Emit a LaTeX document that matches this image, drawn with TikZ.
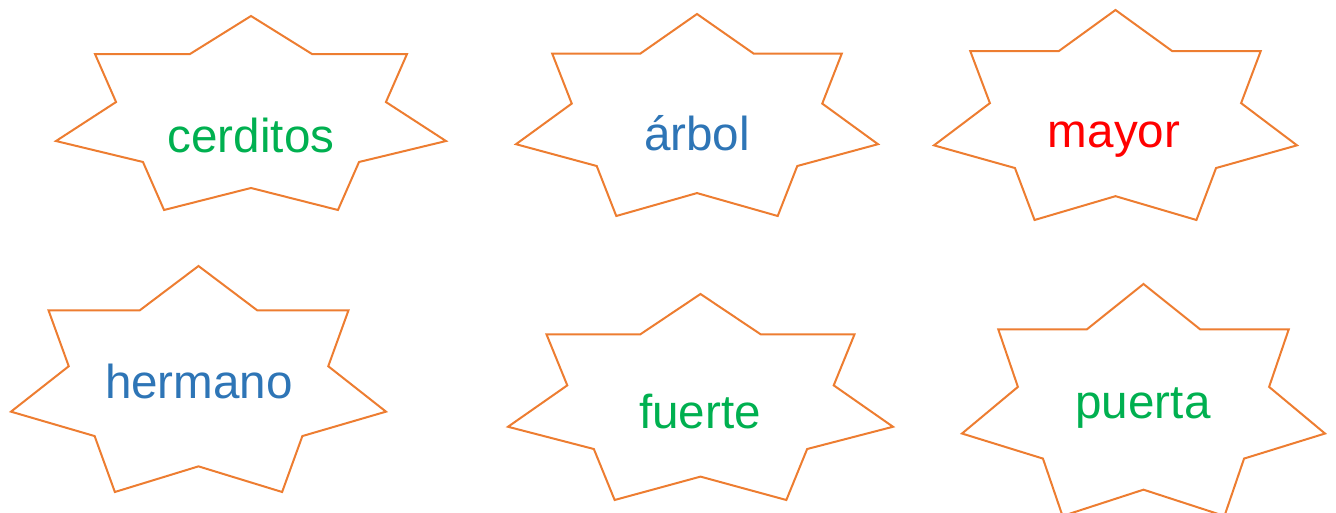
\documentclass[tikz,border=0pt]{standalone}
\usepackage{fontspec}
\setmainfont{Liberation Sans}
\usepackage{xcolor}
\usetikzlibrary{positioning}
\definecolor{starorange}{HTML}{ED7D31}
\definecolor{wordgreen}{HTML}{00B050}
\definecolor{wordblue}{HTML}{2E75B6}
\definecolor{wordred}{HTML}{FF0000}
\tikzset{
    starline/.style={draw=starorange, line width=1.5pt},
    word/.style={font=\fontsize{35.7}{42}\selectfont, anchor=base, inner sep=0pt},
    wordstar/.pic={
        \draw[starline] (0,1) -- (-.313,.608) -- (-.8,.608) -- (-.692,.113) -- (-1,-.289)
            -- (-.554,-.505) -- (-.446,-1) -- (0,-.773) -- (.446,-1) -- (.554,-.505)
            -- (1,-.289) -- (.692,.113) -- (.8,.608) -- (.313,.608) -- cycle;
    }
}

\begin{document}
\begin{tikzpicture}[x=0.75pt, y=0.75pt]
    \useasboundingbox (0,0) rectangle (1336,512);
    \clip (0,0) rectangle (1336,512);

    % Top row
    \pic[xscale=195, yscale=97] at (251,399) {wordstar};
    \pic[xscale=181, yscale=101] at (697,397) {wordstar};
    \pic[xscale=181.5, yscale=105] at (1115.5,397) {wordstar};
    \node [word, text=wordgreen] (cerditos) at (251,360) {cerditos};
    \node [word, text=wordblue] (arbol) at (697,362) {árbol};
    \node [word, text=wordred] (mayor) at (1114,365) {mayor};

    % Bottom row
    \pic[xscale=187.5, yscale=113] at (198.5,133) {wordstar};
    \pic[xscale=192.5, yscale=103] at (700.5,115) {wordstar};
    \pic[xscale=181.5, yscale=116] at (1143.5,112) {wordstar};
    \node [word, text=wordblue] (hermano) at (199,114) {hermano};
    \node [word, text=wordgreen] (fuerte) at (700,84) {fuerte};
    \node [word, text=wordgreen] (puerta) at (1143,94) {puerta};
\end{tikzpicture}
\end{document}
